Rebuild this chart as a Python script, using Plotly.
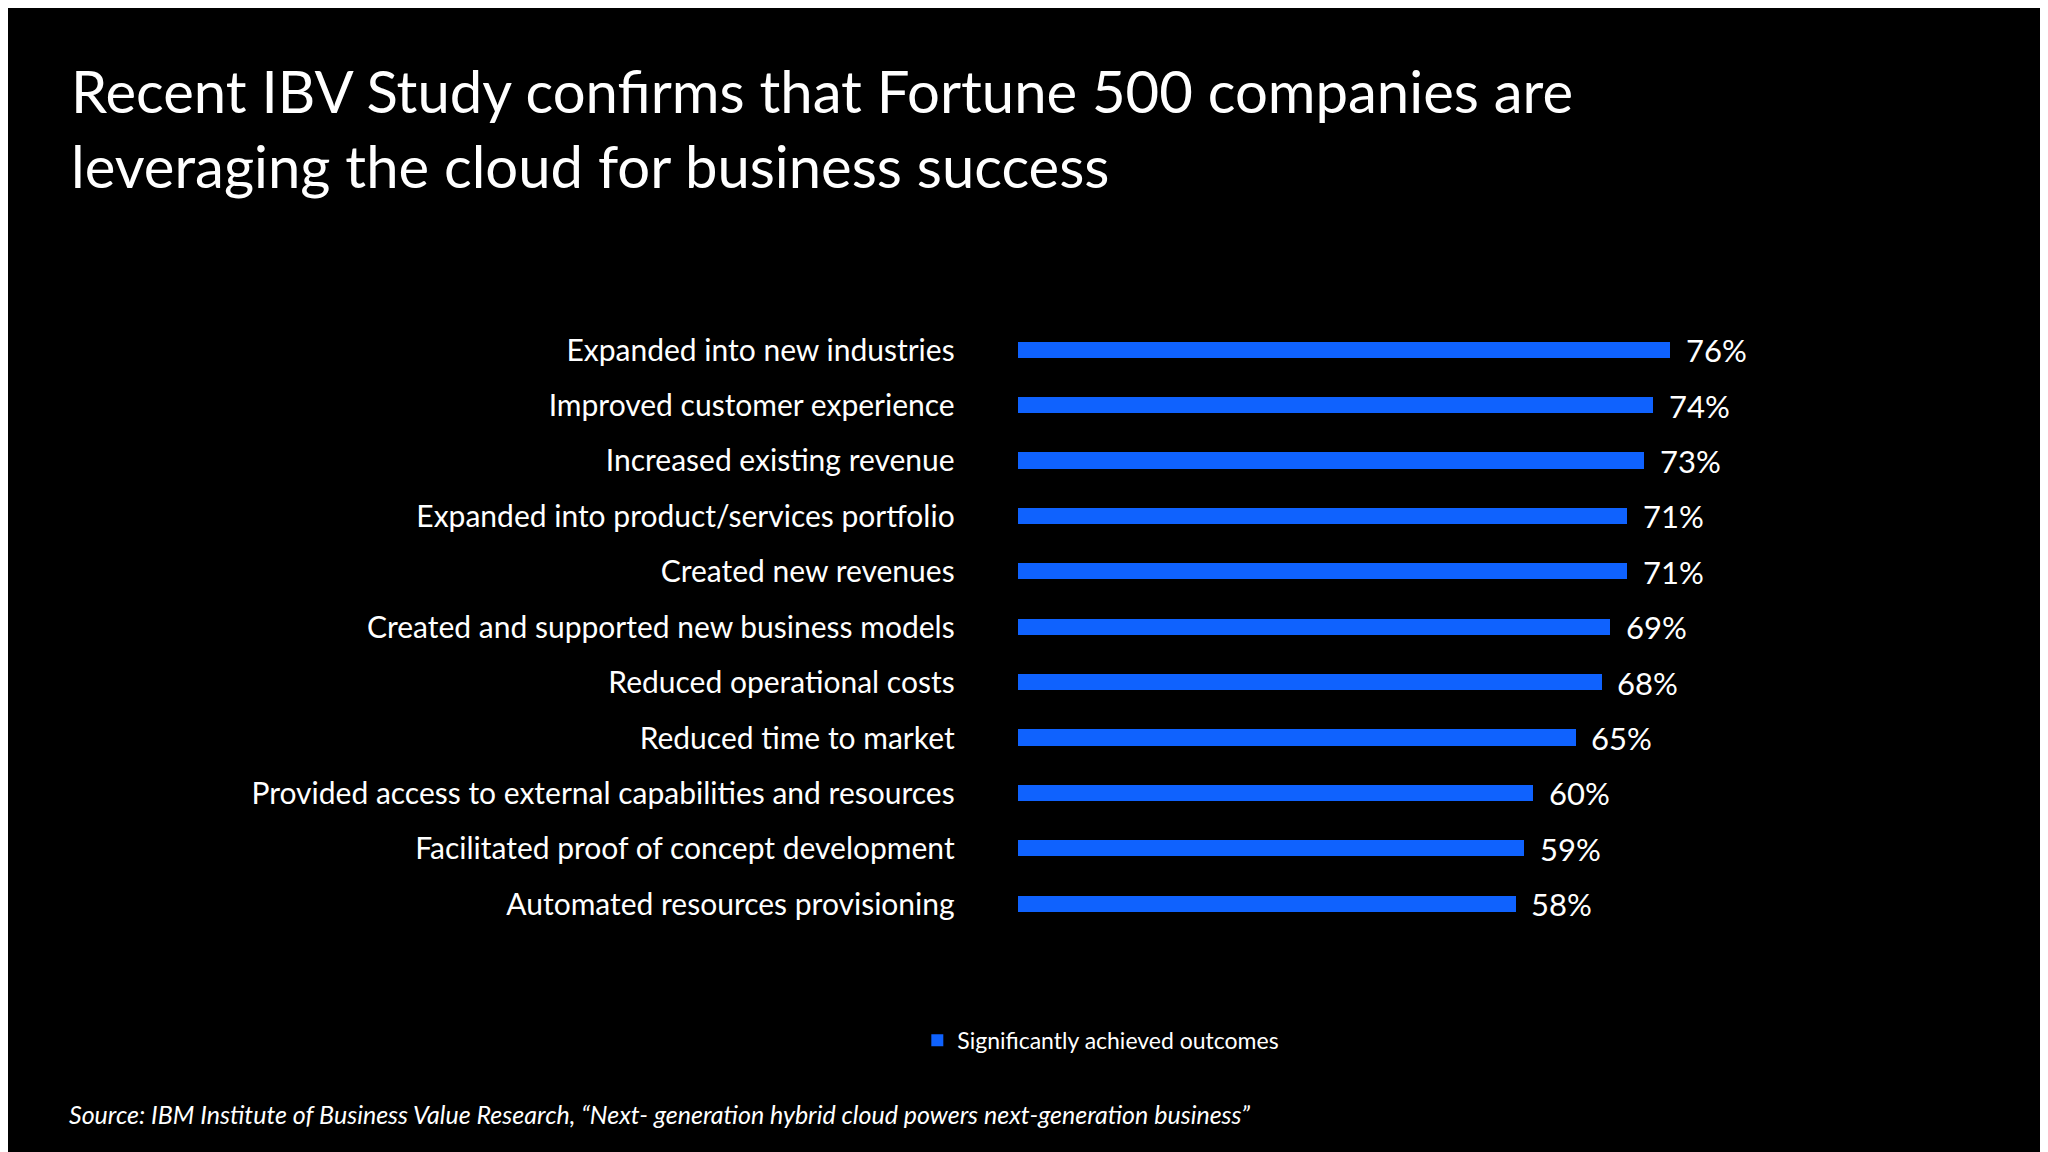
import plotly.graph_objects as go

categories = [
    "Expanded into new industries",
    "Improved customer experience",
    "Increased existing revenue",
    "Expanded into product/services portfolio",
    "Created new revenues",
    "Created and supported new business models",
    "Reduced operational costs",
    "Reduced time to market",
    "Provided access to external capabilities and resources",
    "Facilitated proof of concept development",
    "Automated resources provisioning",
]
values = [76, 74, 73, 71, 71, 69, 68, 65, 60, 59, 58]
labels = [f"{v}%" for v in values]

fig = go.Figure()
fig.add_trace(go.Bar(
    x=values, y=categories, orientation="h",
    marker=dict(color="#0f62fe", line=dict(width=0)), width=0.29,
    name="Significantly achieved outcomes",
))

# value labels as annotations so they keep full size
for c, v, t in zip(categories, values, labels):
    fig.add_annotation(x=v, y=c, text=t, xanchor="left", xshift=14, showarrow=False,
                       font=dict(size=31, color="white", family="Lato"))

fig.update_layout(
    width=2048, height=1152,
    paper_bgcolor="black", plot_bgcolor="black",
    margin=dict(l=0, r=0, t=0, b=0),
    font=dict(family="Lato", color="white"),
    bargap=0,
    showlegend=True,
    legend=dict(x=0.444, y=0.104, yanchor="middle", xanchor="left",
                font=dict(size=23, color="white"), bgcolor="rgba(0,0,0,0)"),
    xaxis=dict(domain=[0.493, 0.912], range=[0, 100], visible=False),
    yaxis=dict(domain=[0.198, 0.727], autorange="reversed",
               tickfont=dict(size=30, color="white"), ticklabelstandoff=62,
               showgrid=False, zeroline=False, showline=False),
)

fig.add_annotation(
    text="Recent IBV Study confirms that Fortune 500 companies are<br>leveraging the cloud for business success",
    xref="paper", yref="paper", x=0.03, y=0.96, xanchor="left", yanchor="top",
    showarrow=False, align="left", font=dict(size=58, color="white"),
)
fig.add_annotation(
    text="<i>Source: IBM Institute of Business Value Research, “Next- generation hybrid cloud powers next-generation business”</i>",
    xref="paper", yref="paper", x=0.029, y=0.04, xanchor="left", yanchor="middle",
    showarrow=False, font=dict(size=25, color="white"),
)

fig.write_html("out.html")
